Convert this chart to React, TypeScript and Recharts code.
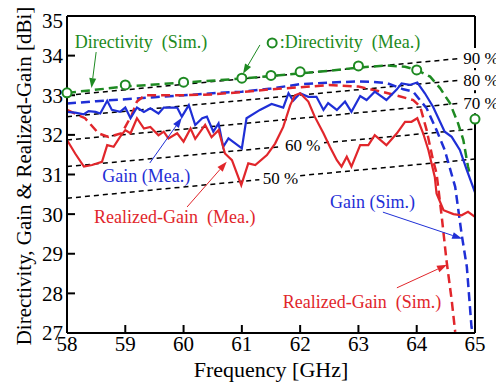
import React from 'react'
import { LineChart, Line, XAxis, YAxis, ReferenceLine, ReferenceDot } from 'recharts'

const serif = '"Liberation Serif", "Times New Roman", serif'
const GREEN = '#1e8a22'
const BLUE = '#1f2fd6'
const RED = '#e1262b'

const freqTicks = [58, 59, 60, 61, 62, 63, 64, 65]
const levelTicks = [27, 28, 29, 30, 31, 32, 33, 34, 35]

// [frequency GHz, dBi]
const dirSim = [
  [58, 33.06], [59, 33.22], [60, 33.32], [61, 33.42], [62, 33.55], [62.5, 33.62],
  [63, 33.7], [63.5, 33.75], [63.8, 33.72], [64, 33.64], [64.23, 33.47], [64.4, 33.18],
  [64.57, 32.8], [64.71, 32.29], [64.8, 31.87], [64.88, 31.2], [64.92, 30.95],
]
const dirMea = [
  [58, 33.06], [59, 33.26], [60, 33.33], [61, 33.43], [61.5, 33.5], [62, 33.59],
  [63, 33.74], [64, 33.64], [65, 32.4],
]
const gainSim = [
  [58, 32.79], [58.5, 32.85], [59, 32.9], [59.5, 32.95], [60, 33.0], [60.5, 33.05],
  [61, 33.09], [61.5, 33.17], [62, 33.28], [62.5, 33.32], [63, 33.35], [63.25, 33.34],
  [63.5, 33.3], [63.77, 33.15], [63.94, 33.09], [64.17, 32.67], [64.34, 32.12],
  [64.48, 31.62], [64.66, 30.69], [64.77, 29.5], [64.86, 28.67], [64.94, 27.15], [64.96, 27.0],
]
const rgainSim = [
  [58, 32.63], [58.31, 32.42], [58.54, 32.04], [58.71, 31.95], [58.94, 32.04], [59.11, 32.5],
  [59.2, 32.84], [59.34, 33.0], [60, 33.0], [60.5, 33.02], [61, 33.08], [61.5, 33.15],
  [62, 33.2], [62.5, 33.26], [63, 33.22], [63.3, 33.12], [63.54, 33.04], [63.94, 32.88],
  [64.06, 32.71], [64.17, 32.12], [64.28, 31.36], [64.34, 31.03], [64.43, 29.93],
  [64.51, 28.84], [64.6, 27.83], [64.66, 27.03],
]
const gainMea = [
  [58, 32.58], [58.14, 32.56], [58.29, 32.52], [58.37, 32.6], [58.49, 32.58], [58.57, 32.54],
  [58.69, 32.86], [58.77, 32.63], [58.91, 32.58], [59.0, 32.69], [59.09, 32.42], [59.2, 32.69],
  [59.32, 32.58], [59.43, 32.67], [59.57, 32.54], [59.66, 32.69], [59.89, 32.69], [59.97, 32.46],
  [60.09, 32.75], [60.2, 32.25], [60.32, 32.42], [60.4, 32.46], [60.51, 32.08], [60.6, 32.29],
  [60.68, 31.7], [60.77, 31.91], [61.0, 31.66], [61.08, 32.42], [61.31, 32.63], [61.51, 32.78],
  [61.71, 32.69], [61.8, 33.05], [61.88, 32.86], [62.0, 33.05], [62.14, 32.96], [62.28, 32.96],
  [62.4, 32.63], [62.48, 32.8], [62.63, 32.63], [62.77, 32.84], [62.88, 32.58], [63.03, 32.98],
  [63.14, 32.88], [63.28, 33.09], [63.48, 32.88], [63.66, 33.15], [63.74, 33.3], [63.88, 33.26],
  [64.01, 33.32], [64.14, 33.05], [64.28, 32.71], [64.48, 32.08], [64.6, 31.95], [64.74, 31.62],
  [64.86, 31.11], [65, 30.55],
]
const rgainMea = [
  [58, 31.87], [58.14, 31.53], [58.29, 31.2], [58.43, 31.24], [58.6, 31.32], [58.69, 31.74],
  [58.8, 31.7], [58.91, 31.95], [59.0, 32.12], [59.09, 32.04], [59.2, 32.42], [59.32, 32.16],
  [59.43, 32.2], [59.57, 31.99], [59.66, 32.08], [59.74, 31.91], [59.89, 32.04], [60.0, 31.83],
  [60.12, 32.16], [60.2, 31.9], [60.37, 32.25], [60.48, 31.94], [60.6, 32.12], [60.71, 31.53],
  [60.83, 31.36], [60.99, 30.73], [61.11, 31.28], [61.23, 31.24], [61.43, 31.49], [61.57, 31.78],
  [61.71, 32.2], [61.83, 32.75], [61.91, 33.0], [62.0, 33.05], [62.14, 32.84], [62.25, 32.46],
  [62.4, 32.04], [62.51, 31.7], [62.63, 31.36], [62.71, 31.2], [62.8, 31.45], [62.88, 31.2],
  [63.03, 31.74], [63.17, 31.74], [63.28, 31.99], [63.48, 31.74], [63.66, 32.04], [63.8, 32.33],
  [63.91, 32.33], [64.01, 32.42], [64.11, 32.04], [64.2, 31.62], [64.31, 30.94], [64.34, 30.52],
  [64.46, 30.1], [64.63, 30.0], [64.77, 29.97], [64.88, 30.06], [65, 29.93],
]

// radiation efficiency guide lines (null = gap for the label)
const eff90 = [[58, 33.0], [64.76, 33.93]]
const eff80 = [[58, 32.46], [64.76, 33.38]]
const eff70 = [[58, 31.87], [64.76, 32.8]]
const eff60 = [[58, 31.2], [61.65, 31.7], [62.0, null], [62.41, 31.8], [65, 32.15]]
const eff50 = [[58, 30.4], [61.3, 30.87], [61.6, null], [62.0, 30.97], [65, 31.39]]

const effLabels = [
  { text: '90 %', x: 64.8, y: 33.94, box: true },
  { text: '80 %', x: 64.8, y: 33.38, box: true },
  { text: '70 %', x: 64.8, y: 32.8, box: true },
  { text: '60 %', x: 61.74, y: 31.74, box: false },
  { text: '50 %', x: 61.36, y: 30.91, box: false },
]

const notes = [
  { text: 'Directivity\u00a0\u00a0(Sim.)', x: 59.27, y: 34.35, color: GREEN, anchor: 'middle' },
  { text: ':Directivity\u00a0\u00a0(Mea.)', x: 61.65, y: 34.34, color: GREEN, anchor: 'start' },
  { text: 'Gain\u00a0(Mea.)', x: 59.36, y: 30.96, color: BLUE, anchor: 'middle' },
  { text: 'Realized-Gain\u00a0\u00a0(Mea.)', x: 59.85, y: 29.94, color: RED, anchor: 'middle' },
  { text: 'Gain\u00a0(Sim.)', x: 63.24, y: 30.31, color: BLUE, anchor: 'middle' },
  { text: 'Realized-Gain\u00a0\u00a0(Sim.)', x: 63.06, y: 27.79, color: RED, anchor: 'middle' },
]

const arrows = [
  { from: [58.5, 34.09], to: [58.42, 33.18], color: GREEN },
  { from: [61.31, 34.27], to: [61.02, 33.54], color: GREEN },
  { from: [59.42, 31.29], to: [59.97, 32.43], color: BLUE },
  { from: [60.06, 30.18], to: [60.74, 31.32], color: RED },
  { from: [63.42, 30.05], to: [64.78, 29.38], color: BLUE },
  { from: [63.66, 28.14], to: [64.52, 28.72], color: RED },
]

const toRows = (pts: any[][]) => pts.map(([f, v]) => ({ f, v }))

const arrowShape = (color: string) => (p: any) => {
  const { x1, y1, x2, y2 } = p
  const a = Math.atan2(y2 - y1, x2 - x1)
  const len = 10
  const w = 3.5
  const bx = x2 - len * Math.cos(a)
  const by = y2 - len * Math.sin(a)
  const s = Math.sin(a)
  const c = Math.cos(a)
  const head = `${x2},${y2} ${bx + w * s},${by - w * c} ${bx - w * s},${by + w * c}`
  return (
    <g>
      <line x1={x1} y1={y1} x2={bx} y2={by} stroke={color} strokeWidth={1} />
      <polygon points={head} fill={color} />
    </g>
  )
}

const textShape = (text: string, color: string, anchor: any, size: number, box = false) => (p: any) => (
  <g>
    {box && <rect x={p.cx - 3} y={p.cy - 10} width={42} height={20} fill="#fff" />}
    <text x={p.cx} y={p.cy} fill={color} fontSize={size} fontFamily={serif} style={{ fontFamily: serif }}
      textAnchor={anchor} dominantBaseline="central">{text}</text>
  </g>
)

const dashed = { strokeDasharray: '9 5', strokeWidth: 2.5 }
const tickStyle = { fill: '#000', fontSize: 21, fontFamily: serif }

export default function App() {
  return (
    <div style={{ width: 496, height: 377, fontFamily: serif }}>
      <LineChart width={496} height={377} margin={{ top: 7, right: 28, bottom: 4, left: 0 }}>
        <XAxis
          dataKey="f" type="number" domain={[58, 65]} ticks={freqTicks}
          height={48} tickSize={-8} tickMargin={11}
          stroke="#000" strokeWidth={2}
          tick={tickStyle}
          label={(props: any) => {
            const vb = props.viewBox || { x: 59, y: 325, width: 408 }
            return (
              <text x={vb.x + vb.width / 2} y={369} textAnchor="middle" fontSize={22}
                fontFamily={serif} style={{ fontFamily: serif }} fill="#000">Frequency [GHz]</text>
            )
          }}
        />
        <XAxis xAxisId="top" orientation="top" type="number" domain={[58, 65]} ticks={freqTicks}
          allowDataOverflow height={1} tickSize={-8} tick={false} stroke="#000" strokeWidth={2} />
        <YAxis
          type="number" domain={[27, 35]} ticks={levelTicks} width={59}
          tickSize={-8} tickMargin={12} stroke="#000" strokeWidth={2}
          tick={tickStyle}
          label={() => {
            const cx = 16
            const cy = 168
            return (
              <text x={cx} y={cy} transform={`rotate(-90 ${cx} ${cy})`} textAnchor="middle"
                dominantBaseline="central" fontSize={21} fontFamily={serif}
                style={{ fontFamily: serif }} fill="#000">
                Directivity, Gain &amp; Realized-Gain [dBi]
              </text>
            )
          }}
        />
        <YAxis yAxisId="right" orientation="right" type="number" domain={[27, 35]} ticks={levelTicks}
          allowDataOverflow width={1} tickSize={-8} tick={false} stroke="#000" strokeWidth={2} />

        {[eff90, eff80, eff70, eff60, eff50].map((pts, i) => (
          <Line key={`eff-${i}`} data={toRows(pts)} dataKey="v" type="linear" stroke="#000"
            strokeWidth={1.5} strokeDasharray="5 4" dot={false} isAnimationActive={false} />
        ))}

        <Line data={toRows(dirSim)} dataKey="v" type="linear" stroke={GREEN} {...dashed}
          dot={false} isAnimationActive={false} />
        <Line data={toRows(gainSim)} dataKey="v" type="linear" stroke={BLUE} {...dashed}
          dot={false} isAnimationActive={false} />
        <Line data={toRows(rgainSim)} dataKey="v" type="linear" stroke={RED} {...dashed}
          dot={false} isAnimationActive={false} />
        <Line data={toRows(gainMea)} dataKey="v" type="linear" stroke={BLUE} strokeWidth={2.2}
          dot={false} isAnimationActive={false} />
        <Line data={toRows(rgainMea)} dataKey="v" type="linear" stroke={RED} strokeWidth={2.2}
          dot={false} isAnimationActive={false} />
        <Line data={toRows(dirMea)} dataKey="v" type="linear" stroke="transparent"
          dot={{ r: 4.5, stroke: GREEN, strokeWidth: 2, fill: '#fff' }} isAnimationActive={false} />

        {effLabels.map((l, i) => (
          <ReferenceDot key={`el-${i}`} x={l.x} y={l.y} r={0} ifOverflow="visible"
            shape={textShape(l.text, '#000', 'start', 17, l.box)} />
        ))}
        {arrows.map((a, i) => (
          <ReferenceLine key={`ar-${i}`} ifOverflow="visible"
            segment={[{ x: a.from[0], y: a.from[1] }, { x: a.to[0], y: a.to[1] }]}
            shape={arrowShape(a.color)} />
        ))}
        {notes.map((n, i) => (
          <ReferenceDot key={`nt-${i}`} x={n.x} y={n.y} r={0} ifOverflow="visible"
            shape={textShape(n.text, n.color, n.anchor, 18)} />
        ))}
        <ReferenceDot x={61.52} y={34.32} r={4.5} fill="#fff" stroke={GREEN} strokeWidth={2}
          ifOverflow="visible" />
      </LineChart>
    </div>
  )
}
